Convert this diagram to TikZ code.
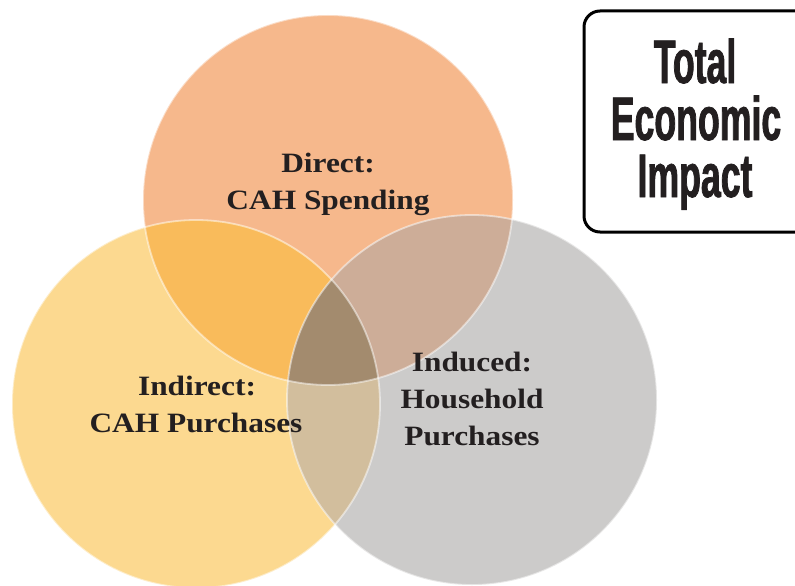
\documentclass[tikz,border=0pt]{standalone}
\usepackage{fontspec}
\newfontfamily\labelfont{Liberation Serif}[FakeStretch=1.12]
\newfontfamily\titlefont{Liberation Sans}[FakeStretch=0.58,FakeBold=1.2]
\definecolor{corange}{HTML}{F6B88C}
\definecolor{cyellow}{HTML}{FCD990}
\definecolor{cgray}{HTML}{CCCBCA}
\definecolor{coy}{HTML}{F9BB5B}
\definecolor{cog}{HTML}{CDAD98}
\definecolor{cyg}{HTML}{D2BE9D}
\definecolor{coyg}{HTML}{A38B6E}
\definecolor{ctext}{HTML}{231F20}
\tikzset{
  lbl/.style={anchor=base, inner sep=0pt, text=ctext, font=\labelfont\bfseries\fontsize{28}{34}\selectfont},
  ttl/.style={anchor=base, inner sep=0pt, text=ctext, font=\titlefont\bfseries\fontsize{61.5}{57}\selectfont},
  rim/.style={draw=white, draw opacity=0.5, line width=1.8pt},
}
\begin{document}
\begin{tikzpicture}[x=1pt,y=-1pt]
\clip (0,0) rectangle (795,586);
\fill[white] (0,0) rectangle (795,586);
\coordinate (O) at (328,200);
\coordinate (Y) at (196,404);
\coordinate (G) at (472,400);
\def\rO{185}\def\rY{184}\def\rG{185}
% base circles
\fill[corange] (O) circle [radius=\rO];
\fill[cyellow] (Y) circle [radius=\rY];
\fill[cgray] (G) circle [radius=\rG];
% pairwise overlaps
\begin{scope}
  \clip (O) circle [radius=\rO];
  \fill[coy] (Y) circle [radius=\rY];
  \fill[cog] (G) circle [radius=\rG];
\end{scope}
\begin{scope}
  \clip (Y) circle [radius=\rY];
  \fill[cyg] (G) circle [radius=\rG];
\end{scope}
% triple overlap
\begin{scope}
  \clip (O) circle [radius=\rO];
  \clip (Y) circle [radius=\rY];
  \fill[coyg] (G) circle [radius=\rG];
\end{scope}
% rims
\draw[rim] (O) circle [radius=\rO];
\draw[rim] (Y) circle [radius=\rY];
\draw[rim] (G) circle [radius=\rG];
% labels
\node[lbl] (d1) at (328,172) {Direct:};
\node[lbl] (d2) at (328,209) {CAH Spending};
\node[lbl] (i1) at (197,395) {Indirect:};
\node[lbl] (i2) at (196,432) {CAH Purchases};
\node[lbl] (n1) at (472,371) {Induced:};
\node[lbl] (n2) at (472,408) {Household};
\node[lbl] (n3) at (472,445) {Purchases};
% title box
\draw[line width=3pt, rounded corners=16pt] (584,11) rectangle (830,232);
\node[ttl] (t1) at (695,83) {Total};
\node[ttl] (t2) at (696,140) {Economic};
\node[ttl] (t3) at (695,197) {Impact};
\end{tikzpicture}
\end{document}
